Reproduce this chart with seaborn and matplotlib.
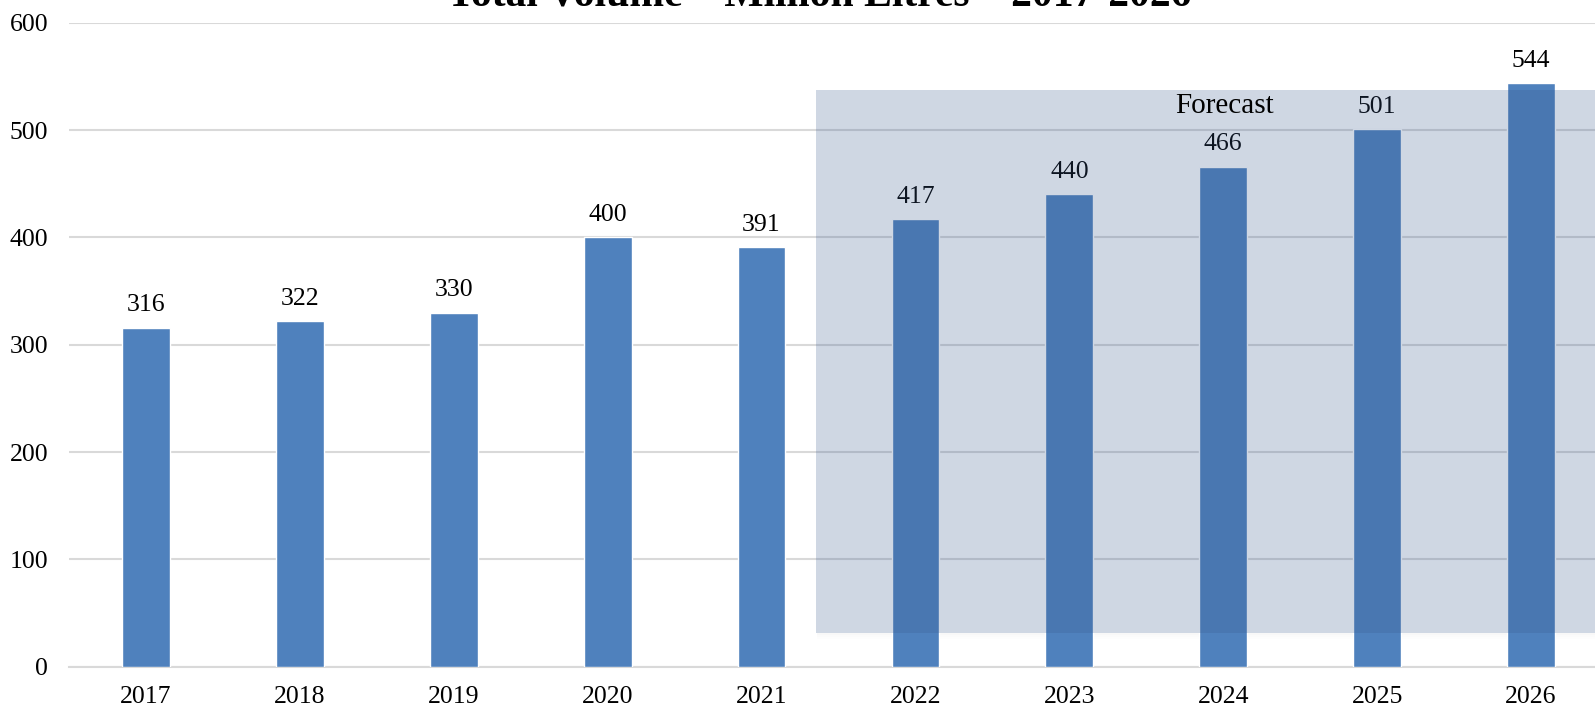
import matplotlib
matplotlib.use("Agg")
import matplotlib.pyplot as plt
import matplotlib.patches as mpatches
import seaborn as sns
import pandas as pd

# dati
years = ['2017', '2018', '2019', '2020', '2021', '2022', '2023', '2024', '2025', '2026']
volumes = [316, 322, 330, 400, 391, 417, 440, 466, 501, 544]
y_ticks = [0, 100, 200, 300, 400, 500, 600]
title = 'Total Volume \u2013 Million Litres \u2013 2017-2026'
forecast_label = 'Forecast'

df = pd.DataFrame({'Year': years, 'Volume': volumes})

sns.set_style('white')
plt.rcParams['font.family'] = ['Liberation Serif', 'DejaVu Serif']
plt.rcParams['text.color'] = 'black'

fig = plt.figure(figsize=(15.95, 7.06), dpi=100)
# l'asse esce a destra oltre il bordo, come nell'originale
ax = fig.add_axes([69 / 1595, 1 - 666.7 / 706, 1539 / 1595, 644 / 706])

sns.barplot(data=df, x='Year', y='Volume', color='#4F81BD', saturation=1,
            width=0.31, ax=ax, zorder=3)

ax.set_ylim(0, 600)
ax.set_xlim(-0.5, 9.5)
ax.set_yticks(y_ticks)
ax.yaxis.grid(True, color='#D9D9D9', linewidth=1.5, zorder=0)
ax.set_axisbelow(True)
for s in ['top', 'right', 'left']:
    ax.spines[s].set_visible(False)
ax.spines['bottom'].set_color('#D9D9D9')
ax.spines['bottom'].set_linewidth(1.5)
ax.tick_params(axis='both', length=0, labelsize=18.5, colors='black')
ax.tick_params(axis='y', pad=15)
ax.tick_params(axis='x', pad=14)
ax.set_xlabel('')
ax.set_ylabel('')

# etichette dei valori
for i, v in enumerate(volumes):
    ax.annotate(str(v), (i, v), xytext=(0, 8), textcoords='offset points',
                ha='center', va='bottom', fontsize=18.5, color='black')

# ombra leggera solo sotto il riquadro
for k, a in enumerate([0.05, 0.03, 0.015]):
    shadow = mpatches.Rectangle((4.36, 31.4 - 2.0 * (k + 1)), 6, 2.0,
                                facecolor='#808080', alpha=a, edgecolor='none', zorder=1)
    ax.add_patch(shadow)

# riquadro previsione
box = mpatches.Rectangle((4.354, 31.4), 6, 506, facecolor=(55 / 255, 88 / 255, 142 / 255),
                         alpha=0.24, edgecolor='none', zorder=4)
ax.add_patch(box)
ax.text(7.01, 522, forecast_label, ha='center', va='center', fontsize=21, zorder=5)

fig.text(819 / 1595, 1 - 5 / 706, title, ha='center', va='baseline',
         fontsize=30, fontweight='bold')

fig.savefig('out.png', dpi=100)
